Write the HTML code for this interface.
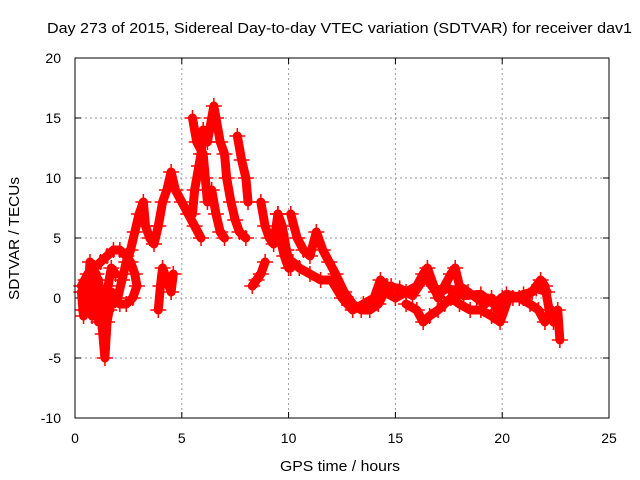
<!DOCTYPE html>
<html><head><meta charset="utf-8"><style>
body{margin:0;background:#fff;}
svg{display:block;font-family:"Liberation Sans",sans-serif;}
</style></head><body>
<svg id="chart" width="640" height="480">
<rect x="0" y="0" width="640" height="480" fill="#fff"/>
<text x="47" y="33" font-size="15" textLength="585" lengthAdjust="spacingAndGlyphs">Day 273 of 2015, Sidereal Day-to-day VTEC variation (SDTVAR) for receiver dav1</text>
<text x="280" y="471" font-size="15" textLength="120" lengthAdjust="spacingAndGlyphs">GPS time / hours</text>
<text transform="translate(19,300) rotate(-90)" font-size="15" textLength="123" lengthAdjust="spacingAndGlyphs">SDTVAR / TECUs</text>
<g id="grid"></g><g id="marks"></g>
<rect x="75" y="58" width="534" height="360" fill="none" stroke="#000" stroke-width="1"/>
</svg>
<script>
const xTicks=[0,5,10,15,20,25];
const yTicks=[-10,-5,0,5,10,15,20];
const trace1=[[0.3,0.5],[0.4,-1.5],[0.5,1.5],[0.6,-0.5],[0.7,3],[0.8,1],[0.9,-1],[1.0,2],[1.1,-2],[1.2,0],[1.3,-3],[1.4,-5],[1.5,-2],[1.6,-1],[1.7,0.5],[1.8,-0.5],[2.0,0],[2.2,1.5],[2.4,3],[2.6,4],[2.8,5.5],[3.0,7],[3.2,8],[3.3,6],[3.5,5],[3.7,4.5],[3.9,6],[4.1,8],[4.3,9],[4.5,10.5],[4.7,9],[5.0,8],[5.3,7],[5.6,6],[5.9,5]];
const trace2=[[0.3,1],[0.6,2],[0.9,2.5],[1.2,3],[1.5,3.5],[1.8,4],[2.1,4],[2.4,3.5],[2.6,3],[2.8,2],[2.9,1],[2.7,0],[2.4,-0.5],[2.1,-0.5],[1.9,0]];
const trace3=[[3.9,-1],[4.0,1],[4.1,2.5],[4.3,1.5],[4.5,0.5],[4.6,2]];
const trace4=[[5.5,7],[5.6,9],[5.8,11],[5.9,12],[6.0,14],[6.2,13],[6.4,15],[6.5,16],[6.6,15],[6.8,13],[7.0,12],[7.1,10],[7.3,8],[7.5,6.5],[7.7,5.5],[8.0,5]];
const trace5=[[5.5,15],[5.7,13],[6.0,12],[6.1,10],[6.2,8],[6.4,9],[6.6,7],[6.8,5.5],[7.0,5]];
const trace6=[[7.6,13.5],[7.8,11.5],[8.0,10],[8.1,8]];
const trace7=[[8.3,1],[8.5,1.5],[8.7,2],[8.9,3]];
const trace8=[[8.7,8],[8.9,6],[9.1,5],[9.3,4.5],[9.5,7],[9.7,6],[9.9,4],[10.1,2.5]];
const trace9=[[9.5,7],[9.6,5],[9.8,3.5],[10.0,2.5]];
const trace10=[[10.1,7],[10.4,5],[10.7,4],[11.0,3.5],[11.3,5.5],[11.6,4],[11.9,3],[12.2,2],[12.6,0.5],[13.0,-0.5],[13.4,-1],[13.8,-1],[14.2,-0.5],[14.5,0.5],[14.8,1]];
const trace11=[[10.2,3],[10.5,2.5],[11.0,2],[11.5,1.5],[12.0,1.5],[12.5,0],[13.0,-1],[13.5,-0.5],[14.0,0],[14.3,1.5],[14.6,1]];
const trace12=[[14.5,0.5],[15.0,0],[15.5,0.5],[16.0,1],[16.3,2],[16.5,2.5],[16.8,1],[17.0,0],[17.3,1],[17.6,2],[17.8,2.5],[18.0,1],[18.4,0.5],[18.8,0],[19.2,-0.5],[19.5,0],[19.8,-1],[20.0,0],[20.5,0],[21.0,0.3],[21.4,0.5],[21.8,1.5],[22.0,1],[22.2,-1],[22.4,-2],[22.6,-1],[22.7,-3.5]];
const trace13=[[15.5,-0.5],[16.0,-1],[16.3,-2],[16.6,-1.5],[17.0,-1],[17.3,-0.5],[17.6,0],[18.0,-0.5],[18.5,-1],[19.0,-1],[19.5,-1.5],[19.9,-2],[20.3,0],[20.8,0],[21.3,-0.5],[21.7,-1],[22.0,-2],[22.3,-1]];
const trace14=[[0.35,-1],[0.5,-0.5],[0.65,1],[0.8,-1.5],[0.95,0.5],[1.1,1.5],[1.25,-1],[1.4,0],[1.55,1],[1.7,2.5],[1.9,2]];
const trace15=[[14.4,1],[15.2,0.8],[15.8,0.2],[16.4,1.8],[16.9,0.5],[17.5,0.8],[18.2,0.2],[19.0,0.3],[19.6,-0.5],[20.2,0.3],[21.0,0],[21.6,0.8],[22.1,0.5]];
const traces=[trace1,trace2,trace3,trace4,trace5,trace6,trace7,trace8,trace9,trace10,trace11,trace12,trace13,trace14,trace15];

const X0=75,X1=609,Y0=418,Y1=58;
function xs(v){return X0+(v-0)/(25-0)*(X1-X0);}
function ys(v){return Y0-(v+10)/(30)*(Y0-Y1);}
const NS="http://www.w3.org/2000/svg";
const grid=document.getElementById('grid');
const marks=document.getElementById('marks');
function mk(tag,attrs,parent){const e=document.createElementNS(NS,tag);for(const k in attrs)e.setAttribute(k,attrs[k]);parent.appendChild(e);return e;}
xTicks.forEach(t=>{
  const x=xs(t);
  if(t>0&&t<25){const g=mk('line',{x1:x,x2:x,y1:Y1,y2:Y0,stroke:'#999','stroke-dasharray':'2,3'},grid);
  
  }
  mk('line',{x1:x,x2:x,y1:Y0,y2:Y0-6,stroke:'#000'},grid);
  mk('line',{x1:x,x2:x,y1:Y1,y2:Y1+6,stroke:'#000'},grid);
  const l=mk('text',{x:x,y:Y0+25,'font-size':14,'text-anchor':'middle'},grid);
  l.textContent=t;
  
  
});
yTicks.forEach(t=>{
  const y=ys(t);
  if(t>-10&&t<20){const g=mk('line',{x1:X0,x2:X1,y1:y,y2:y,stroke:'#999','stroke-dasharray':'2,3'},grid);
  
  }
  mk('line',{x1:X0,x2:X0+6,y1:y,y2:y,stroke:'#000'},grid);
  mk('line',{x1:X1,x2:X1-6,y1:y,y2:y,stroke:'#000'},grid);
  const l=mk('text',{x:X0-14,y:y+5,'font-size':14,'text-anchor':'end'},grid);
  l.textContent=t;
  
  
});
traces.forEach((tr,i)=>{
  const p=mk('polyline',{points:tr.map(d=>xs(d[0])+','+ys(d[1])).join(' '),fill:'none',stroke:'#f00','stroke-width':9,'stroke-linejoin':'round','stroke-linecap':'round'},marks);
  
  
  tr.forEach(d=>{
    const x=xs(d[0]),y=ys(d[1]);
    const m=mk('path',{d:`M${x-8},${y}H${x+8}M${x},${y-8}V${y+8}`,stroke:'#f00','stroke-width':1.5},marks);
    
    
  });
});
</script>
</body></html>
